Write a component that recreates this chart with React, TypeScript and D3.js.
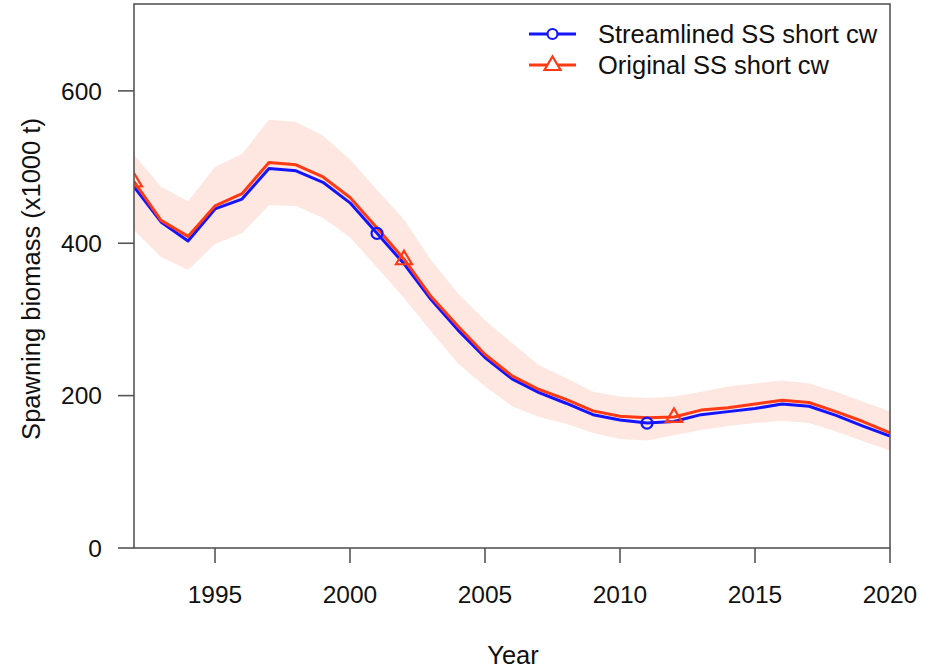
import React from "react";
import * as d3 from "d3";

// Spawning biomass estimates (x1000 t), 1992–2020
const years: number[] = d3.range(1992, 2021);
const streamlined: number[] = [474, 428, 403, 445, 458, 498, 495, 480, 453, 413, 373, 326, 286, 250, 222, 204, 190, 175, 168, 164, 166, 175, 179, 183, 189, 186, 174, 160, 147];
const original: number[] = [481, 430, 409, 449, 465, 506, 503, 487, 460, 420, 379, 330, 291, 254, 226, 208, 195, 180, 173, 171, 172, 181, 184, 189, 194, 191, 179, 166, 151];
const originalUpper: number[] = [516, 474, 455, 500, 517, 562, 559, 541, 510, 470, 431, 378, 334, 299, 269, 240, 223, 205, 199, 197, 199, 205, 212, 216, 220, 216, 205, 192, 179];
const originalLower: number[] = [417, 382, 365, 399, 413, 450, 449, 433, 408, 368, 328, 284, 242, 212, 186, 172, 163, 151, 143, 141, 148, 155, 160, 164, 167, 164, 153, 140, 128];
const circleYears: number[] = [2001, 2011];
const triangleYears: number[] = [1992, 2002, 2012];
const xTicks: number[] = [1995, 2000, 2005, 2010, 2015, 2020];
const yTicks: number[] = [0, 200, 400, 600];
const seriesNames: string[] = ["Streamlined SS short cw", "Original SS short cw"];

const BLUE = "#1414ff";
const RED = "#ff3a14";
const BAND = "#fee7e1";
const AXIS = "#555555";
const FONT = "'Liberation Sans', Arial, sans-serif";

const W = 933;
const H = 669;
const M = { left: 134, right: 890, top: 4, bottom: 548 };

const x = d3.scaleLinear().domain([1992, 2020]).range([M.left, M.right]);
const y = d3.scaleLinear().domain([0, 714]).range([M.bottom, M.top]);

const lineGen = (vals: number[]) =>
  d3.line<number>().x((_, i) => x(years[i])).y((v) => y(v))(vals) || "";

const bandPath =
  d3
    .area<number>()
    .x((_, i) => x(years[i]))
    .y0((_, i) => y(originalLower[i]))
    .y1((v) => y(v))(originalUpper) || "";

const triPath = (cx: number, cy: number) => {
  const hw = 8;
  return `M${cx},${cy - 8.5}L${cx + hw},${cy + 5}L${cx - hw},${cy + 5}Z`;
};

export default function App() {
  const valAt = (arr: number[], yr: number) => arr[years.indexOf(yr)];
  return (
    <svg
      width={W}
      height={H}
      style={{ position: "absolute", left: 0, top: 0, background: "#fff" }}
      fontFamily={FONT}
    >
      <defs>
        <clipPath id="plotClip">
          <rect x={M.left} y={M.top} width={M.right - M.left} height={M.bottom - M.top} />
        </clipPath>
      </defs>

      <g clipPath="url(#plotClip)">
        <path d={bandPath} fill={BAND} stroke="none" />
        <path d={lineGen(streamlined)} fill="none" stroke={BLUE} strokeWidth={3} strokeLinejoin="round" />
        <path d={lineGen(original)} fill="none" stroke={RED} strokeWidth={3} strokeLinejoin="round" />
        {circleYears.map((yr) => (
          <circle key={yr} cx={x(yr)} cy={y(valAt(streamlined, yr))} r={5.5} fill="none" stroke={BLUE} strokeWidth={2.2} />
        ))}
        {triangleYears.map((yr) => (
          <path key={yr} d={triPath(x(yr), y(valAt(original, yr)))} fill="none" stroke={RED} strokeWidth={2.2} />
        ))}
      </g>

      {/* plot box */}
      <rect
        x={M.left}
        y={M.top}
        width={M.right - M.left}
        height={M.bottom - M.top}
        fill="none"
        stroke={AXIS}
        strokeWidth={1.6}
      />

      {/* y axis */}
      {yTicks.map((t) => (
        <g key={t}>
          <line x1={M.left - 16} x2={M.left} y1={y(t)} y2={y(t)} stroke={AXIS} strokeWidth={1.6} />
          <text x={M.left - 32} y={y(t) + 8.7} fontSize={24.5} textAnchor="end" fill="#111">
            {t}
          </text>
        </g>
      ))}

      {/* x axis */}
      {xTicks.map((t) => (
        <g key={t}>
          <line x1={x(t)} x2={x(t)} y1={M.bottom} y2={M.bottom + 15} stroke={AXIS} strokeWidth={1.6} />
          <text x={x(t)} y={603} fontSize={24.5} textAnchor="middle" fill="#111">
            {t}
          </text>
        </g>
      ))}

      <text x={(M.left + M.right) / 2 + 1} y={664} fontSize={25.5} textAnchor="middle" fill="#111">
        Year
      </text>
      <text
        transform={`translate(40, ${(M.top + M.bottom) / 2 + 3}) rotate(-90)`}
        fontSize={25.5}
        textAnchor="middle"
        fill="#111"
      >
        Spawning biomass (x1000 t)
      </text>

      {/* legend */}
      {seriesNames.map((name, i) => {
        const ly = 34 + i * 31;
        const color = i === 0 ? BLUE : RED;
        return (
          <g key={name}>
            <line x1={529} x2={576} y1={ly} y2={ly} stroke={color} strokeWidth={3} />
            {i === 0 ? (
              <circle cx={552.5} cy={ly} r={5} fill="#fff" stroke={color} strokeWidth={2.2} />
            ) : (
              <path d={triPath(552.5, ly)} fill="#fff" stroke={color} strokeWidth={2.2} />
            )}
            <text x={598} y={ly + 9} fontSize={25.5} fill="#111">
              {name}
            </text>
          </g>
        );
      })}
    </svg>
  );
}
